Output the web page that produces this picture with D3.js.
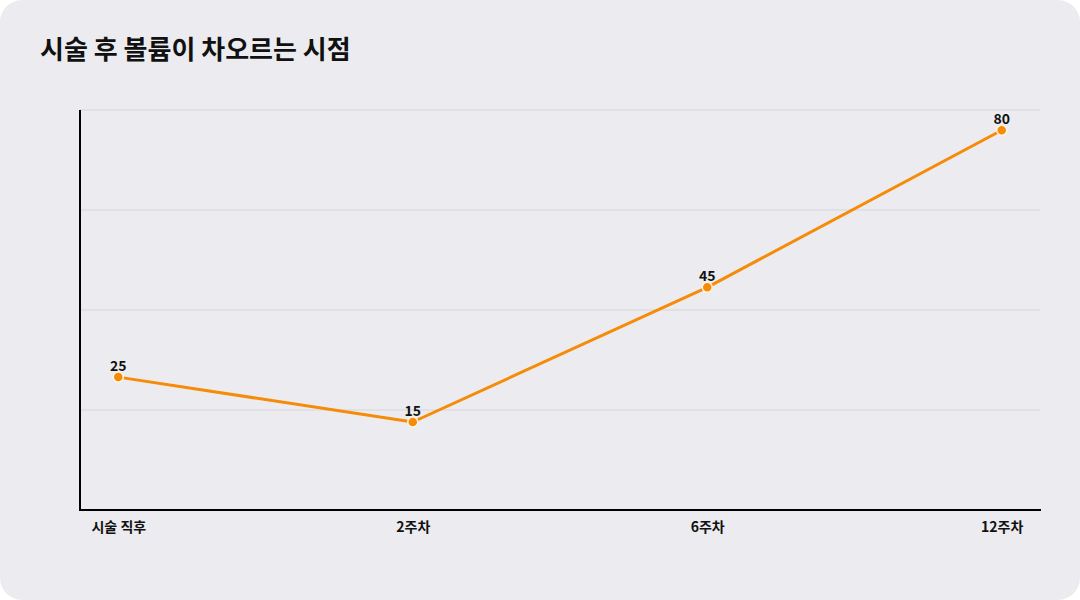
<!DOCTYPE html>
<html>
<head>
<meta charset="utf-8">
<script src="https://cdn.jsdelivr.net/npm/d3@7"></script>
<style>
  body { margin: 0; background: #fff; }
  svg { display: block; font-family: "Noto Sans CJK KR", "Noto Sans", sans-serif; }
</style>
</head>
<body>
<div id="chart"></div>
<script>
/* DATA */
const categories = ["시술 직후", "2주차", "6주차", "12주차"];
const volume = [25, 15, 45, 80];
const title = "시술 후 볼륨이 차오르는 시점";

const width = 1080, height = 600;
const margin = { top: 110, right: 40, bottom: 90, left: 80 };

const svg = d3.select("#chart").append("svg")
  .attr("width", width)
  .attr("height", height);

// card background
svg.append("rect")
  .attr("width", width).attr("height", height)
  .attr("rx", 22)
  .attr("fill", "#ececf0");

svg.append("text")
  .attr("x", 40).attr("y", 59)
  .attr("font-size", 26).attr("font-weight", 700)
  .attr("fill", "#111")
  .text(title);

const xScale = d3.scalePoint()
  .domain(categories)
  .range([margin.left, width - margin.right])
  .padding(0.13);

const yScale = d3.scaleLinear()
  .domain([-4.6, 84.5])
  .range([height - margin.bottom, margin.top]);

// gridlines, evenly split
const [d0, d1] = yScale.domain();
const grid = d3.range(1, 5).map(i => d0 + i * (d1 - d0) / 4);
svg.append("g")
  .selectAll("line")
  .data(grid)
  .join("line")
  .attr("x1", margin.left).attr("x2", width - margin.right)
  .attr("y1", d => yScale(d)).attr("y2", d => yScale(d))
  .attr("stroke", "#d6d6da").attr("stroke-width", 1);

// axes
svg.append("line")
  .attr("x1", margin.left).attr("x2", margin.left)
  .attr("y1", margin.top).attr("y2", height - margin.bottom + 1)
  .attr("stroke", "#000").attr("stroke-width", 2);

const xAxis = svg.append("g")
  .attr("transform", `translate(0,${height - margin.bottom})`)
  .call(d3.axisBottom(xScale).tickSize(0).tickPadding(12));
xAxis.select(".domain")
  .attr("d", `M${margin.left},0H${width - margin.right + 1}`)
  .attr("stroke", "#000").attr("stroke-width", 2);
xAxis.selectAll("text")
  .attr("font-size", 14).attr("font-weight", 700)
  .attr("fill", "#111")
  .style("font-family", '"Noto Sans CJK KR", sans-serif');

const data = categories.map((c, i) => ({ cat: c, v: volume[i] }));

const line = d3.line()
  .x(d => xScale(d.cat))
  .y(d => yScale(d.v));

svg.append("path")
  .datum(data)
  .attr("d", line)
  .attr("fill", "none")
  .attr("stroke", "#f58b07")
  .attr("stroke-width", 3)
  .attr("stroke-linejoin", "round");

svg.selectAll("circle.pt")
  .data(data)
  .join("circle")
  .attr("class", "pt")
  .attr("cx", d => xScale(d.cat))
  .attr("cy", d => yScale(d.v))
  .attr("r", 5)
  .attr("fill", "#f58b07")
  .attr("stroke", "#fff4e0")
  .attr("stroke-width", 1.5);

svg.selectAll("text.label")
  .data(data)
  .join("text")
  .attr("class", "label")
  .attr("x", d => xScale(d.cat))
  .attr("y", d => yScale(d.v) - 6)
  .attr("text-anchor", "middle")
  .attr("font-size", 14).attr("font-weight", 700)
  .attr("fill", "#111")
  .text(d => d.v);
</script>
</body>
</html>
